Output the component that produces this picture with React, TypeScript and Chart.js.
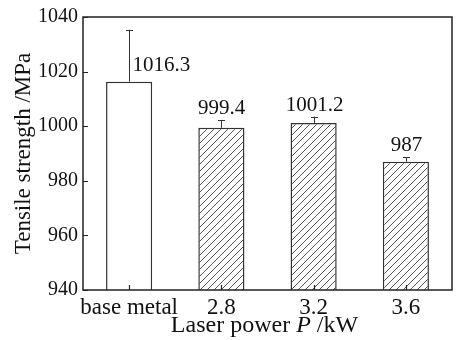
import React, { useEffect, useRef } from "react";
import { Chart, registerables } from "chart.js";

Chart.register(...registerables);

const categories = ["base metal", "2.8", "3.2", "3.6"];
const strengths = [1016.3, 999.4, 1001.2, 987];
const errors = [19, 2.8, 2.3, 1.6];
const valueLabels = ["1016.3", "999.4", "1001.2", "987"];
const yMin = 940;
const yMax = 1040;
const yStep = 20;

const FONT = "\"Liberation Serif\", \"DejaVu Serif\", serif";
const INK = "#222";

function makeHatch(): CanvasPattern | string {
  const c = document.createElement("canvas");
  const s = 7;
  c.width = s;
  c.height = s;
  const g = c.getContext("2d");
  if (!g) return "#fff";
  g.fillStyle = "#fff";
  g.fillRect(0, 0, s, s);
  g.strokeStyle = "#444";
  g.lineWidth = 0.9;
  g.beginPath();
  g.moveTo(-1, s + 1);
  g.lineTo(s + 1, -1);
  g.moveTo(-1, 1);
  g.lineTo(1, -1);
  g.moveTo(s - 1, s + 1);
  g.lineTo(s + 1, s - 1);
  g.stroke();
  const p = g.createPattern(c, "repeat");
  return p || "#fff";
}

const framePlugin = {
  id: "frame",
  afterDatasetsDraw(chart: any) {
    const { ctx, chartArea: a, scales } = chart;
    const y = scales.y;
    const x = scales.x;
    ctx.save();
    ctx.strokeStyle = INK;
    ctx.lineWidth = 1.5;
    ctx.strokeRect(a.left, a.top, a.right - a.left, a.bottom - a.top);
    ctx.lineWidth = 1.2;
    ctx.beginPath();
    for (let v = yMin; v <= yMax; v += yStep) {
      const py = Math.round(y.getPixelForValue(v)) + 0.5;
      ctx.moveTo(a.left, py);
      ctx.lineTo(a.left + 5, py);
    }
    for (let i = 0; i < categories.length; i++) {
      const px = Math.round(x.getPixelForValue(i)) + 0.5;
      ctx.moveTo(px, a.bottom);
      ctx.lineTo(px, a.bottom - 5);
    }
    ctx.stroke();

    const meta = chart.getDatasetMeta(0);
    ctx.lineWidth = 1;
    ctx.strokeStyle = "#333";
    ctx.fillStyle = "#111";
    ctx.font = `21px ${FONT}`;
    meta.data.forEach((bar: any, i: number) => {
      const bx = Math.round(bar.x) + 0.5;
      const top = y.getPixelForValue(strengths[i] + errors[i]);
      const base = y.getPixelForValue(strengths[i]);
      ctx.beginPath();
      ctx.moveTo(bx, base);
      ctx.lineTo(bx, top);
      ctx.moveTo(bx - 3.5, Math.round(top) + 0.5);
      ctx.lineTo(bx + 3.5, Math.round(top) + 0.5);
      ctx.stroke();
      if (i === 0) {
        ctx.textAlign = "left";
        ctx.textBaseline = "middle";
        ctx.fillText(valueLabels[i], bx + 3, base - 16);
      } else {
        ctx.textAlign = "center";
        ctx.textBaseline = "alphabetic";
        ctx.fillText(valueLabels[i], bx, top - 6);
      }
    });

    const parts: [string, string][] = [
      ["Laser power ", `24px ${FONT}`],
      ["P", `italic 24px ${FONT}`],
      [" /kW", `24px ${FONT}`],
    ];
    let total = 0;
    for (const [t, f] of parts) {
      ctx.font = f;
      total += ctx.measureText(t).width;
    }
    let cx = (a.left + a.right) / 2 - total / 2 - 3;
    ctx.textAlign = "left";
    ctx.textBaseline = "alphabetic";
    for (const [t, f] of parts) {
      ctx.font = f;
      ctx.fillText(t, cx, 332);
      cx += ctx.measureText(t).width;
    }
    ctx.restore();
  },
};

export default function App() {
  const ref = useRef<HTMLCanvasElement | null>(null);
  useEffect(() => {
    if (!ref.current) return;
    const hatch = makeHatch();
    const chart = new Chart(ref.current, {
      type: "bar",
      data: {
        labels: categories,
        datasets: [
          {
            data: strengths,
            backgroundColor: ["#ffffff", hatch, hatch, hatch] as any,
            borderColor: "#333",
            borderWidth: 1.5,
            barPercentage: 0.5,
            categoryPercentage: 1,
          },
        ],
      },
      options: {
        responsive: false,
        animation: false,
        layout: { padding: { top: 15, right: 4, left: 0, bottom: 0 } },
        plugins: {
          legend: { display: false },
          tooltip: { enabled: false },
        },
        scales: {
          x: {
            grid: { display: false, drawTicks: false },
            border: { display: false },
            ticks: {
              color: "#111",
              font: { family: FONT, size: 23 },
              padding: 4,
              maxRotation: 0,
              autoSkip: false,
            },
            afterFit: (s: any) => {
              s.height = 50;
            },
          },
          y: {
            min: yMin,
            max: yMax,
            grid: { display: false, drawTicks: false },
            border: { display: false },
            ticks: {
              stepSize: yStep,
              color: "#111",
              font: { family: FONT, size: 20 },
              padding: 5,
              callback: (v: any) => String(v),
            },
            title: {
              display: true,
              text: "Tensile strength /MPa",
              color: "#111",
              font: { family: FONT, size: 23, lineHeight: 1.2 },
              padding: { top: 10, bottom: 0 },
            },
            afterFit: (s: any) => {
              s.width = 83;
            },
          },
        },
      },
      plugins: [framePlugin],
    });
    return () => chart.destroy();
  }, []);
  return (
    <div style={{ position: "absolute", left: 0, top: 0, width: 456, height: 340, background: "#fff" }}>
      <canvas ref={ref} width={456} height={340} style={{ width: 456, height: 340 }} />
    </div>
  );
}
